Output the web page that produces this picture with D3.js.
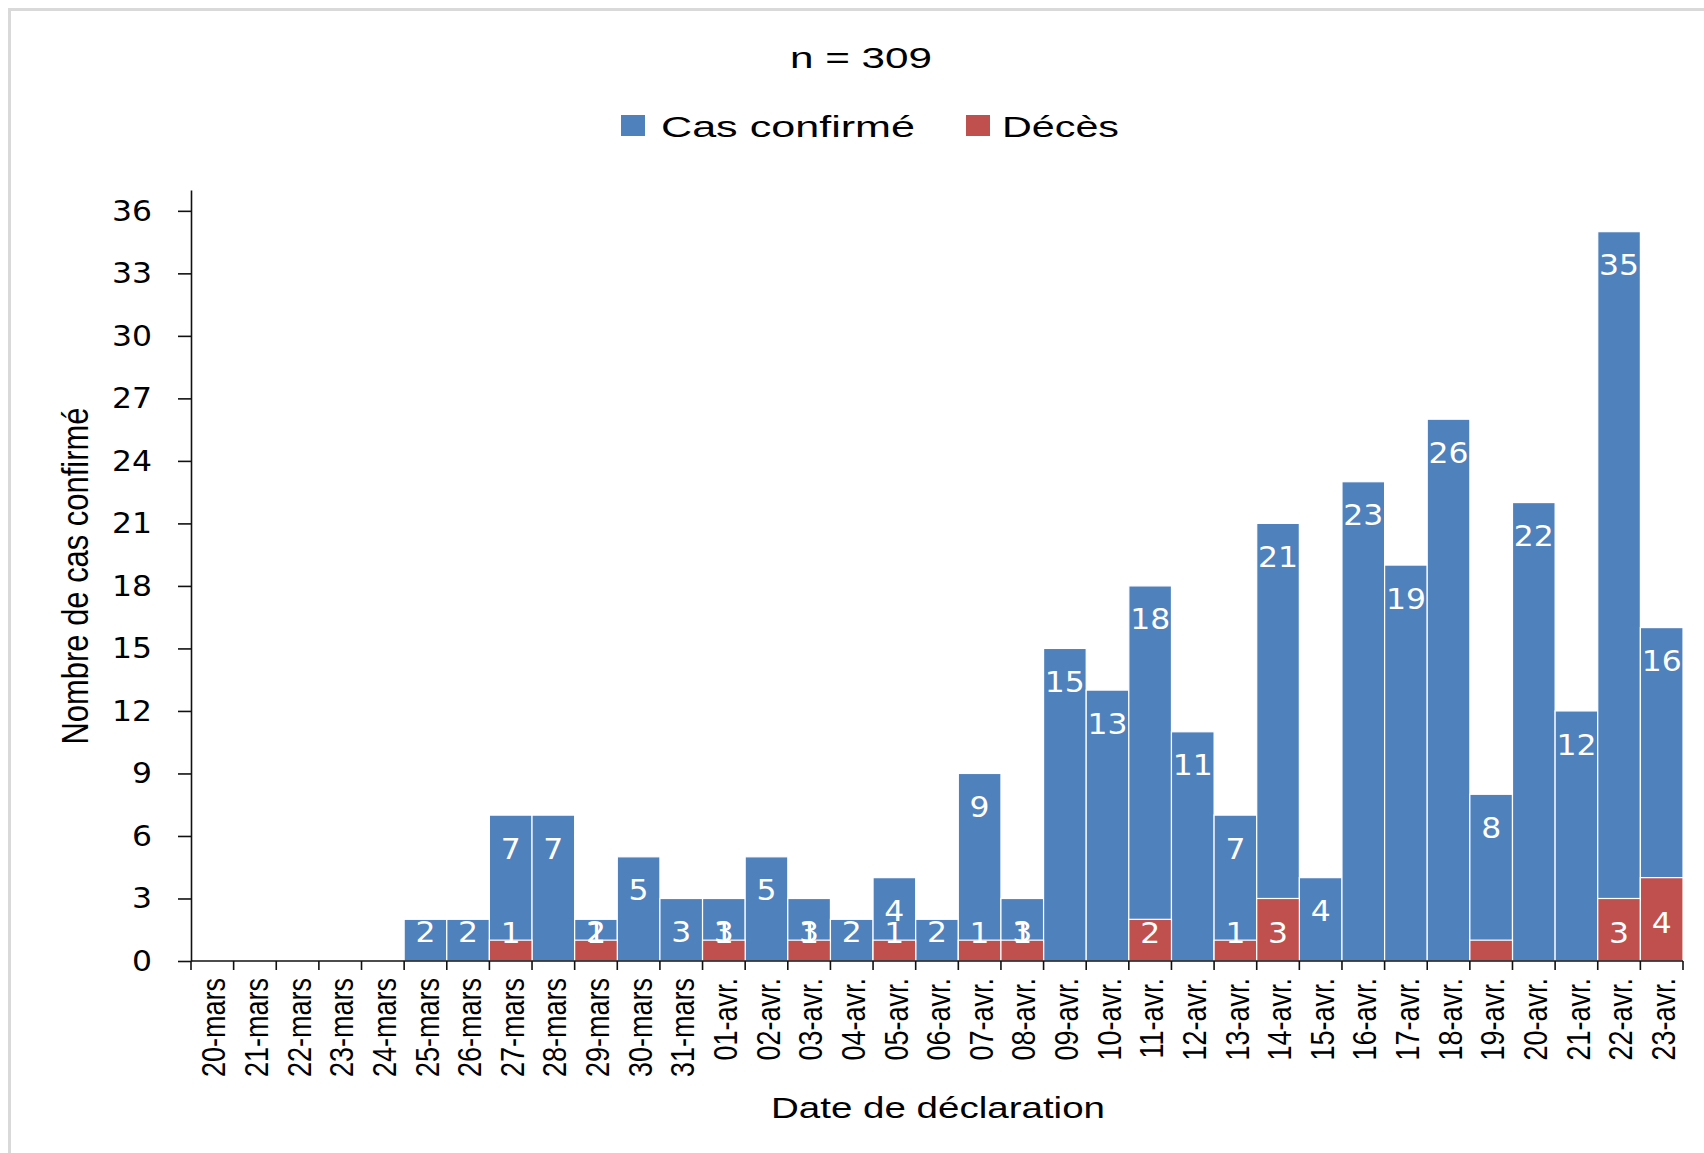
<!DOCTYPE html>
<html>
<head>
<meta charset="utf-8">
<script src="https://cdn.jsdelivr.net/npm/d3@7"></script>
<style>body{margin:0;background:#fff}</style>
</head>
<body>
<div id="chart"></div>
<script>
// Cas confirmés et décès par date de déclaration (n = 309)
const dates = ["20-mars", "21-mars", "22-mars", "23-mars", "24-mars", "25-mars", "26-mars", "27-mars",
  "28-mars", "29-mars", "30-mars", "31-mars", "01-avr.", "02-avr.", "03-avr.", "04-avr.", "05-avr.",
  "06-avr.", "07-avr.", "08-avr.", "09-avr.", "10-avr.", "11-avr.", "12-avr.", "13-avr.", "14-avr.",
  "15-avr.", "16-avr.", "17-avr.", "18-avr.", "19-avr.", "20-avr.", "21-avr.", "22-avr.", "23-avr."];
const cases = [0, 0, 0, 0, 0, 2, 2, 7, 7, 2, 5, 3, 3, 5, 3, 2, 4, 2, 9, 3,
  15, 13, 18, 11, 7, 21, 4, 23, 19, 26, 8, 22, 12, 35, 16];
const deaths = [0, 0, 0, 0, 0, 0, 0, 1, 0, 1, 0, 0, 1, 0, 1, 0, 1, 0, 1, 1,
  0, 0, 2, 0, 1, 3, 0, 0, 0, 0, 1, 0, 0, 3, 4];
const noDeathLabel = ["19-avr."];
const yTicks = [0, 3, 6, 9, 12, 15, 18, 21, 24, 27, 30, 33, 36];
const seriesNames = ["Cas confirmé", "Décès"];
const colors = ["#4F81BD", "#C0504D"];

const width = 1704, height = 1153;
const plot = {left: 191, right: 1683, top: 190, bottom: 961};
const tickFont = "DejaVu Sans", textFont = "Liberation Sans";
const labelSize = 29;
const digitWidth = 20; // the source picture is stretched sideways

const svg = d3.select("#chart").append("svg")
  .attr("width", width).attr("height", height);

// light frame, cut by the picture edge on the right and bottom
svg.append("rect").attr("x", 9.5).attr("y", 9.5)
  .attr("width", width + 40).attr("height", height + 40)
  .attr("fill", "none").attr("stroke", "#d9d9d9").attr("stroke-width", 3);

const x = d3.scaleBand().domain(dates).range([plot.left, plot.right]).padding(0);
const y = d3.scaleLinear().domain([0, 37]).range([plot.bottom, plot.top]);

const rows = dates.map((d, i) => ({date: d, cases: cases[i], deaths: deaths[i]}));

// bars: deaths overlap the cases bars (not stacked)
svg.append("g").selectAll("rect").data(rows.filter(d => d.cases > 0)).join("rect")
  .attr("x", d => x(d.date)).attr("y", d => y(d.cases))
  .attr("width", x.bandwidth()).attr("height", d => y(0) - y(d.cases))
  .attr("fill", colors[0]).attr("stroke", "#fff").attr("stroke-width", 1.2);

svg.append("g").selectAll("rect").data(rows.filter(d => d.deaths > 0)).join("rect")
  .attr("x", d => x(d.date)).attr("y", d => y(d.deaths))
  .attr("width", x.bandwidth()).attr("height", d => y(0) - y(d.deaths))
  .attr("fill", colors[1]).attr("stroke", "#fff").attr("stroke-width", 1.2);

// data labels (Excel style: inside end for cases, centred for deaths, kept above the axis)
const lowest = y(0) - 30;
const baselineShift = 0.3645 * labelSize;

svg.append("g").selectAll("text").data(rows.filter(d => d.cases > 0)).join("text")
  .attr("x", d => x(d.date) + x.bandwidth() / 2)
  .attr("y", d => Math.min(y(d.cases) + 33, lowest) + baselineShift)
  .attr("text-anchor", "middle").attr("font-family", tickFont).attr("font-size", labelSize)
  .attr("textLength", d => String(d.cases).length * digitWidth).attr("lengthAdjust", "spacingAndGlyphs")
  .attr("fill", "#fff").text(d => d.cases);

svg.append("g").selectAll("text")
  .data(rows.filter(d => d.deaths > 0 && !noDeathLabel.includes(d.date))).join("text")
  .attr("x", d => x(d.date) + x.bandwidth() / 2)
  .attr("y", d => Math.min((y(d.deaths) + y(0)) / 2 + 3, lowest + 1) + baselineShift)
  .attr("text-anchor", "middle").attr("font-family", tickFont).attr("font-size", labelSize)
  .attr("textLength", d => String(d.deaths).length * digitWidth).attr("lengthAdjust", "spacingAndGlyphs")
  .attr("fill", "#fff").text(d => d.deaths);

// y axis
svg.append("g").attr("transform", `translate(${plot.left},0)`)
  .call(d3.axisLeft(y).tickValues(yTicks).tickSize(13).tickSizeOuter(0).tickPadding(26))
  .call(g => g.selectAll("text").attr("font-family", tickFont).attr("font-size", 29).attr("fill", "#000")
    .attr("textLength", d => String(d).length * digitWidth).attr("lengthAdjust", "spacingAndGlyphs"))
  .call(g => g.selectAll("line,path").attr("stroke", "#111").attr("stroke-width", 1.6));

// x axis: ticks between categories, labels rotated
const xAxis = svg.append("g");
xAxis.append("line").attr("x1", plot.left).attr("x2", x.range()[1])
  .attr("y1", y(0)).attr("y2", y(0)).attr("stroke", "#111").attr("stroke-width", 1.6);
xAxis.selectAll("line.tick").data(dates.map(d => x(d)).concat([x.range()[1]])).join("line")
  .attr("class", "tick")
  .attr("x1", d => d).attr("x2", d => d).attr("y1", y(0)).attr("y2", y(0) + 9)
  .attr("stroke", "#111").attr("stroke-width", 1.6);
xAxis.selectAll("text").data(dates).join("text")
  .attr("transform", d => `translate(${x(d) + x.bandwidth() / 2 + 1},${y(0) + 17}) rotate(-90) scale(1,1.25)`)
  .attr("text-anchor", "end").attr("dominant-baseline", "central")
  .attr("font-family", textFont).attr("font-size", 27).attr("fill", "#000").text(d => d);

// axis titles
svg.append("text").attr("transform", "translate(76,576) rotate(-90) scale(1,1.2)")
  .attr("text-anchor", "middle").attr("dominant-baseline", "central")
  .attr("font-family", textFont).attr("font-size", 30)
  .attr("textLength", 337).attr("lengthAdjust", "spacingAndGlyphs")
  .text("Nombre de cas confirmé");

svg.append("text").attr("x", 938).attr("y", 1118)
  .attr("text-anchor", "middle").attr("font-family", textFont).attr("font-size", 30)
  .attr("textLength", 334).attr("lengthAdjust", "spacingAndGlyphs")
  .text("Date de déclaration");

// title
svg.append("text").attr("x", 861).attr("y", 68)
  .attr("text-anchor", "middle").attr("font-family", textFont).attr("font-size", 30)
  .attr("textLength", 142).attr("lengthAdjust", "spacingAndGlyphs")
  .text("n = " + d3.sum(cases));

// legend
const legendItems = [
  {x: 621, textX: 661, textLen: 254},
  {x: 966, textX: 1002, textLen: 117}
];
const legend = svg.append("g");
legendItems.forEach((item, i) => {
  legend.append("rect").attr("x", item.x).attr("y", 115).attr("width", 24).attr("height", 21)
    .attr("fill", colors[i]);
  legend.append("text").attr("x", item.textX).attr("y", 137)
    .attr("font-family", textFont).attr("font-size", 30)
    .attr("textLength", item.textLen).attr("lengthAdjust", "spacingAndGlyphs")
    .text(seriesNames[i]);
});
</script>
</body>
</html>
